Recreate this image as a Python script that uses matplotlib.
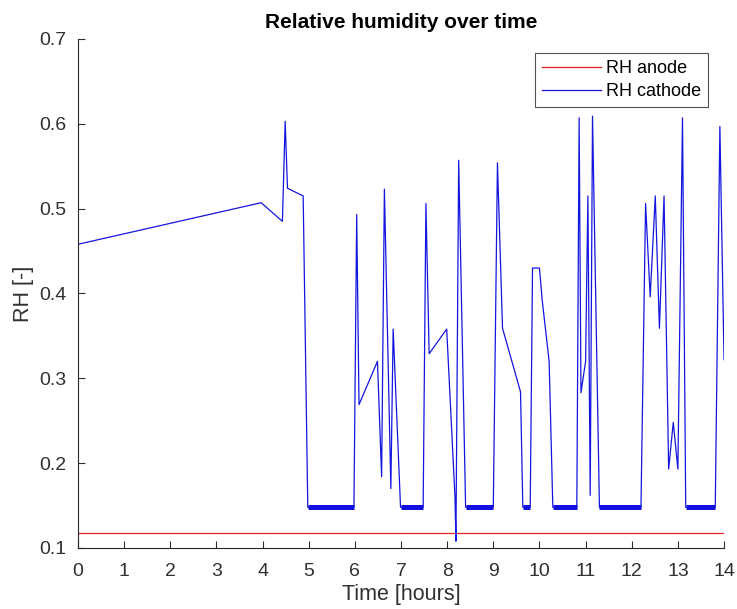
import matplotlib
matplotlib.use("Agg")
import matplotlib.pyplot as plt

plt.rcParams["font.family"] = ["Liberation Sans", "DejaVu Sans"]

# cathode RH trace (hours, RH)
t_cath = [0.0, 3.97, 4.43, 4.49, 4.54, 4.88, 4.98, 5.98, 6.04, 6.09, 6.49, 6.58, 6.64,
          6.78, 6.83, 6.99, 7.48, 7.54, 7.61, 7.99, 8.17, 8.19, 8.25, 8.40, 9.00, 9.09,
          9.20, 9.59, 9.64, 9.80, 9.85, 10.0, 10.06, 10.21, 10.29, 10.81, 10.86, 10.90,
          11.0, 11.05, 11.10, 11.15, 11.30, 12.20, 12.30, 12.40, 12.51, 12.60, 12.70,
          12.80, 12.90, 13.0, 13.10, 13.17, 13.81, 13.91, 14.0]
rh_cath = [0.458, 0.507, 0.485, 0.603, 0.524, 0.515, 0.148, 0.148, 0.493, 0.269, 0.320,
           0.184, 0.523, 0.170, 0.358, 0.148, 0.148, 0.506, 0.329, 0.358, 0.160, 0.108,
           0.557, 0.148, 0.148, 0.554, 0.359, 0.284, 0.148, 0.148, 0.430, 0.430, 0.392,
           0.320, 0.148, 0.148, 0.607, 0.283, 0.320, 0.515, 0.162, 0.609, 0.148, 0.148,
           0.506, 0.396, 0.515, 0.359, 0.515, 0.193, 0.248, 0.193, 0.607, 0.148, 0.148,
           0.597, 0.322]

# intervals where the cathode signal chatters around its floor value
band_start = [4.98, 6.99, 8.40, 9.64, 10.29, 11.30, 13.17]
band_end = [5.98, 7.48, 9.00, 9.80, 10.81, 12.20, 13.81]
band_level = 0.148

t_anode = [0.0, 14.0]
rh_anode = [0.118, 0.118]

fig = plt.figure(figsize=(7.37, 6.09), dpi=100)
ax = fig.add_axes([0.1058, 0.1002, 0.8766, 0.8358])

ax.plot(t_anode, rh_anode, color="#e8202a", lw=0.9, label="RH anode")
ax.plot(t_cath, rh_cath, color="#1515e0", lw=0.9, label="RH cathode")
for a, b in zip(band_start, band_end):
    ax.plot([a, b], [band_level, band_level], color="#1010e0", lw=3.6,
            solid_capstyle="butt")

ax.set_xlim(0, 14)
ax.set_ylim(0.1, 0.7)
ax.set_xticks(range(0, 15))
ax.set_yticks([0.1, 0.2, 0.3, 0.4, 0.5, 0.6, 0.7])
ax.set_yticklabels(["0.1", "0.2", "0.3", "0.4", "0.5", "0.6", "0.7"])

for s in ["top", "right"]:
    ax.spines[s].set_visible(False)
for s in ["left", "bottom"]:
    ax.spines[s].set_color("#262626")
    ax.spines[s].set_linewidth(0.8)
ax.tick_params(direction="in", length=5, width=0.8, colors="#303030",
               labelsize=14)
ax.tick_params(axis="x", pad=11)
ax.tick_params(axis="y", pad=8)

ax.set_xlabel("Time [hours]", fontsize=15.5, color="#303030", labelpad=3)
ax.set_ylabel("RH [-]", fontsize=15.5, color="#303030", labelpad=4)
ax.set_title("Relative humidity over time", fontsize=15, fontweight="bold",
             color="black", pad=8)

leg = ax.legend(loc="upper right", bbox_to_anchor=(0.975, 0.972), fontsize=13,
                frameon=True, fancybox=False, edgecolor="#262626",
                handlelength=3.3, borderpad=0.38, labelspacing=0.32,
                handletextpad=0.25, borderaxespad=0)
leg.get_frame().set_linewidth(0.8)

plt.savefig("out.png", dpi=100)
